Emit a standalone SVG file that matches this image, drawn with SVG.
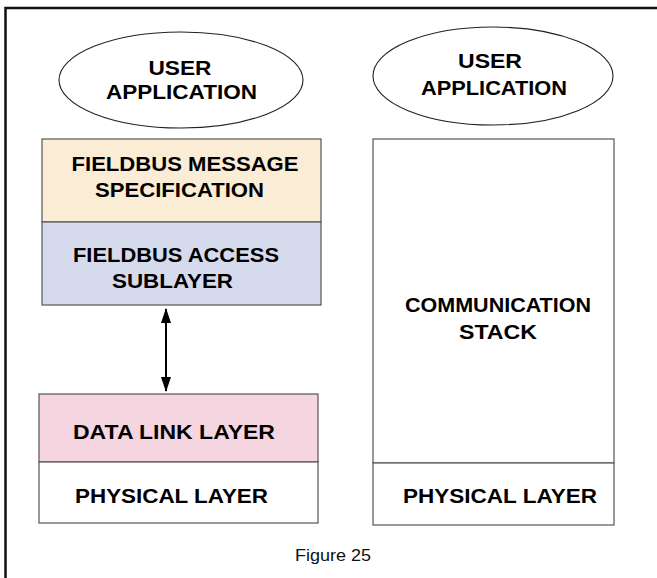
<svg xmlns="http://www.w3.org/2000/svg" width="657" height="578" viewBox="0 0 657 578">
<style>
.t{font-family:"Liberation Sans",Arial,sans-serif;font-weight:bold;font-size:20px;fill:#000;text-anchor:middle}
.cap{font-family:"Liberation Sans",Arial,sans-serif;font-size:17px;fill:#111;text-anchor:middle}
.box{stroke:#555;stroke-width:1.2}
.ell{fill:#fff;stroke:#222;stroke-width:1.1}
</style>
<defs>
<marker id="ah" viewBox="0 0 15 10" refX="14" refY="5" markerWidth="15" markerHeight="10" markerUnits="userSpaceOnUse" orient="auto-start-reverse">
<path d="M0,0 L15,5 L0,10 Z" fill="#000"/>
</marker>
</defs>
<rect x="0" y="0" width="657" height="578" fill="#fff"/>
<rect id="frame" x="5.5" y="8" width="700" height="700" fill="none" stroke="#111" stroke-width="2.5"/>
<g id="user-app-left">
<ellipse class="ell" cx="181" cy="80" rx="122" ry="48"/>
<text class="t" x="180" y="75" textLength="63" lengthAdjust="spacingAndGlyphs">USER</text>
<text class="t" x="181.5" y="99" textLength="151" lengthAdjust="spacingAndGlyphs">APPLICATION</text>
</g>
<g id="fms">
<rect class="box" x="42" y="139" width="279" height="83" fill="#fbecd5"/>
<text class="t" x="185" y="171" textLength="227" lengthAdjust="spacingAndGlyphs">FIELDBUS MESSAGE</text>
<text class="t" x="179.5" y="197" textLength="169" lengthAdjust="spacingAndGlyphs">SPECIFICATION</text>
</g>
<g id="fas">
<rect class="box" x="42" y="222" width="279" height="83" fill="#d5dbed"/>
<text class="t" x="176" y="262" textLength="206" lengthAdjust="spacingAndGlyphs">FIELDBUS ACCESS</text>
<text class="t" x="172.5" y="288" textLength="121" lengthAdjust="spacingAndGlyphs">SUBLAYER</text>
</g>
<g id="dll">
<rect class="box" x="39" y="394" width="279" height="68" fill="#f5d5e0"/>
<text class="t" x="174" y="439" textLength="202" lengthAdjust="spacingAndGlyphs">DATA LINK LAYER</text>
</g>
<g id="phys-left">
<rect class="box" x="39" y="462" width="279" height="61" fill="#fff"/>
<text class="t" x="171.5" y="503" textLength="193" lengthAdjust="spacingAndGlyphs">PHYSICAL LAYER</text>
</g>
<g id="user-app-right">
<ellipse class="ell" cx="493" cy="76" rx="120" ry="49"/>
<text class="t" x="490" y="68" textLength="64" lengthAdjust="spacingAndGlyphs">USER</text>
<text class="t" x="494" y="95" textLength="146" lengthAdjust="spacingAndGlyphs">APPLICATION</text>
</g>
<g id="comm-stack">
<rect class="box" x="373" y="139" width="241" height="324" fill="#fff"/>
<text class="t" x="498" y="312" textLength="186" lengthAdjust="spacingAndGlyphs">COMMUNICATION</text>
<text class="t" x="498" y="339" textLength="78" lengthAdjust="spacingAndGlyphs">STACK</text>
</g>
<g id="phys-right">
<rect class="box" x="373" y="463" width="241" height="62" fill="#fff"/>
<text class="t" x="500" y="503" textLength="194" lengthAdjust="spacingAndGlyphs">PHYSICAL LAYER</text>
</g>
<g id="connectors">
<line x1="166" y1="309" x2="166" y2="391" stroke="#000" stroke-width="2" marker-start="url(#ah)" marker-end="url(#ah)"/>
</g>
<text class="cap" x="333" y="561" textLength="76" lengthAdjust="spacingAndGlyphs">Figure 25</text>
</svg>
